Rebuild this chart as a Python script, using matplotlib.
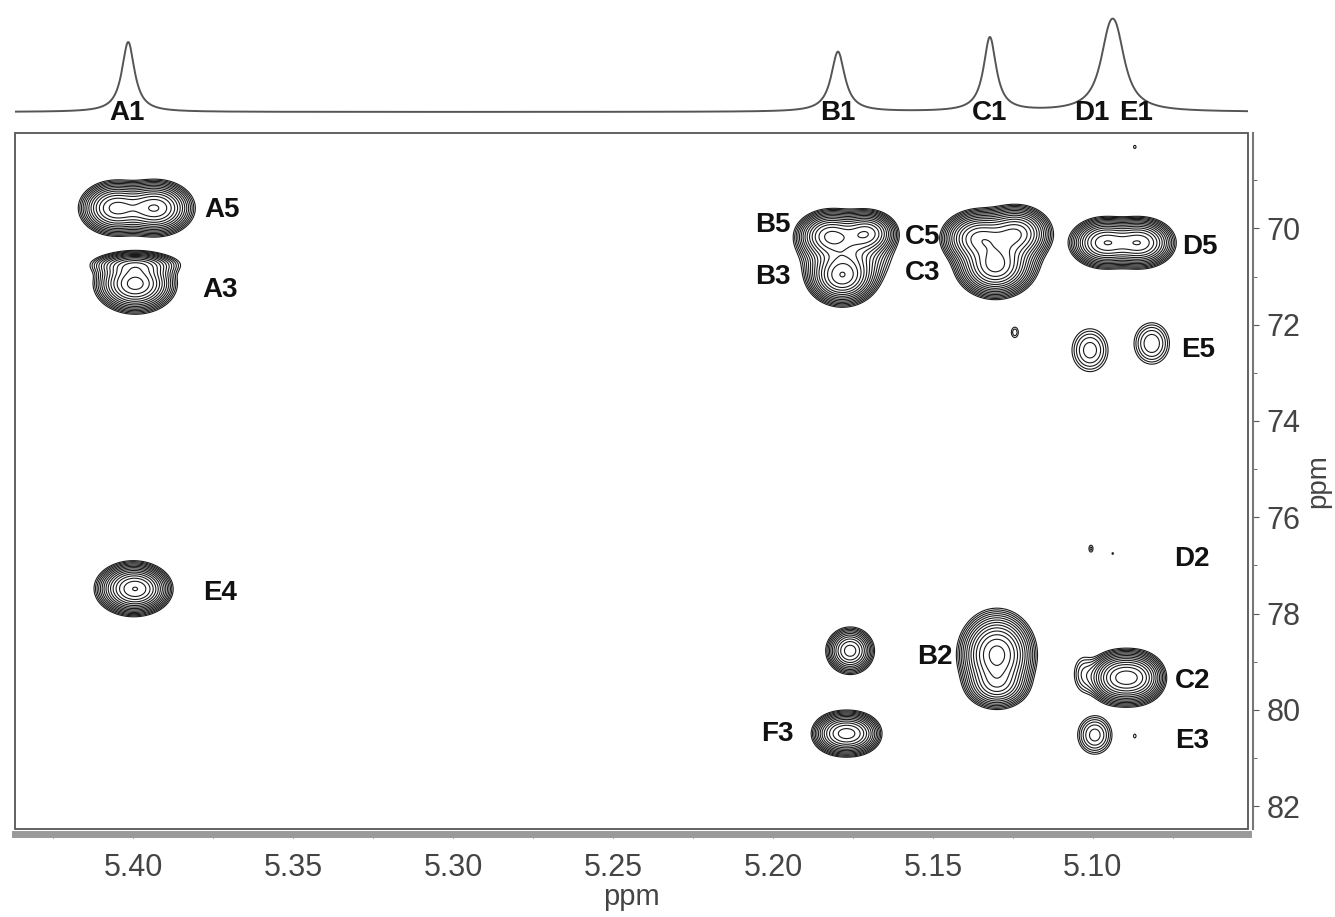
import numpy as np
import matplotlib.pyplot as plt
from matplotlib.patches import Rectangle
from matplotlib.ticker import MultipleLocator, FormatStrFormatter

plt.rcParams['font.family'] = ['Liberation Sans', 'DejaVu Sans']

# 1H trace on top (shift ppm, height, half width at half max ppm)
h1_shift = [5.4016, 5.1797, 5.1322, 5.0950, 5.0926]
h1_height = [70, 60, 74, 52, 52]
h1_hwhm = [0.0024, 0.0026, 0.0024, 0.0035, 0.0035]
h1_labels = ['A1', 'B1', 'C1', 'D1', 'E1']
h1_label_x = [5.4019, 5.1797, 5.1322, 5.1003, 5.0866]

# cross peak components: 1H shift, 13C shift, widths, amplitude
cp_h = [5.4056, 5.3931,                      # A5
        5.3994, 5.3994,                      # A3
        5.4003, 5.3975,                      # E4
        5.1822, 5.1706, 5.1784, 5.1770,      # B5 / B3
        5.1359, 5.1238, 5.1306, 5.1295,      # C5 / C3
        5.0963, 5.0853,                      # D5
        5.1244, 5.1009, 5.0816, 5.0869,      # small one, E5, dot
        5.1006, 5.0938,                      # D2
        5.1759, 5.1795, 5.1745,              # unlabelled, F3
        5.1300, 5.1300,                      # B2
        5.0925, 5.0865, 5.1031,              # C2
        5.0994, 5.0869]                      # E3
cp_c = [69.58, 69.58,
        71.15, 70.75,
        77.48, 77.50,
        70.15, 70.10, 71.00, 70.50,
        70.20, 70.10, 70.80, 70.50,
        70.30, 70.30,
        72.16, 72.53, 72.39, 68.31,
        76.65, 76.75,
        78.77, 80.49, 80.49,
        78.85, 79.50,
        79.33, 79.33, 79.25,
        80.52, 80.54]
cp_wh = [0.0048, 0.0050,
         0.0052, 0.0065,
         0.0048, 0.0040,
         0.0045, 0.0040, 0.0045, 0.0065,
         0.0048, 0.0046, 0.0048, 0.0060,
         0.0046, 0.0046,
         0.0012, 0.0038, 0.0036, 0.0006,
         0.0008, 0.0005,
         0.0034, 0.0038, 0.0038,
         0.0050, 0.0045,
         0.0040, 0.0040, 0.0024,
         0.0033, 0.0006]
cp_wc = [0.24, 0.24,
         0.25, 0.12,
         0.23, 0.20,
         0.22, 0.20, 0.25, 0.35,
         0.24, 0.24, 0.26, 0.35,
         0.22, 0.22,
         0.12, 0.30, 0.28, 0.05,
         0.09, 0.04,
         0.22, 0.20, 0.20,
         0.38, 0.22,
         0.24, 0.24, 0.29,
         0.245, 0.06]
cp_amp = [0.75, 0.90,
          1.00, 0.35,
          0.90, 0.30,
          0.80, 0.75, 1.00, 0.40,
          0.85, 0.80, 1.00, 0.40,
          0.85, 0.85,
          0.06, 0.12, 0.13, 0.05,
          0.055, 0.045,
          0.50, 0.50, 0.50,
          1.00, 0.35,
          0.70, 0.70, 0.07,
          0.15, 0.05]

lab_text = ['A5', 'A3', 'E4', 'B5', 'B3', 'C5', 'C3', 'D5', 'E5', 'D2',
            'B2', 'C2', 'F3', 'E3']
lab_h = [5.3722, 5.3728, 5.3728, 5.2000, 5.2000, 5.1531, 5.1531, 5.0666,
         5.0672, 5.0691, 5.1494, 5.0688, 5.1988, 5.0691]
lab_c = [69.62, 71.28, 77.58, 69.93, 71.01, 70.18, 70.93, 70.39,
         72.53, 76.86, 78.91, 79.39, 80.49, 80.64]

xlim = (5.437, 5.0515)
ylim = (82.47, 68.02)

# 2D map
xs = np.linspace(xlim[1], xlim[0], 1400)
ys = np.linspace(ylim[1], ylim[0], 900)
X, Y = np.meshgrid(xs, ys)
Z = np.zeros_like(X)
for h, c, wh, wc, a in zip(cp_h, cp_c, cp_wh, cp_wc, cp_amp):
    Z += a * np.exp(-0.5 * (((X - h) / wh) ** 2 + ((Y - c) / wc) ** 2))

levels = 0.04 * 1.27 ** np.arange(15)

fig = plt.figure(figsize=(13.35, 9.17), dpi=100)
ax = fig.add_axes([0.01124, 0.096, 0.9236, 0.759])
ax.contour(X, Y, Z, levels=levels, colors='#1a1a1a', linewidths=0.8)
ax.set_xlim(xlim)
ax.set_ylim(ylim)

for t, h, c in zip(lab_text, lab_h, lab_c):
    ax.text(h, c, t, fontsize=20, fontweight='bold', color='#111111',
            ha='center', va='center')

# frame + offset axis lines
ax.add_patch(Rectangle((0, 0), 1, 1, transform=ax.transAxes, fill=False,
                       lw=1.3, ec='#555555', clip_on=False, zorder=5))
for s in ['left', 'top']:
    ax.spines[s].set_visible(False)
ax.spines['bottom'].set_position(('outward', 3.5))
ax.spines['bottom'].set_linewidth(5)
ax.spines['bottom'].set_color('#9a9a9a')
ax.spines['right'].set_position(('outward', 3.5))
ax.spines['right'].set_linewidth(1.5)
ax.spines['right'].set_color('#777777')

ax.xaxis.set_major_locator(MultipleLocator(0.05))
ax.xaxis.set_minor_locator(MultipleLocator(0.025))
ax.xaxis.set_major_formatter(FormatStrFormatter('%.2f'))
ax.yaxis.set_major_locator(MultipleLocator(2))
ax.yaxis.set_minor_locator(MultipleLocator(1))
ax.yaxis.tick_right()
ax.yaxis.set_label_position('right')
ax.tick_params(which='both', colors='#555555', labelcolor='#444444')
ax.tick_params(axis='x', which='both', length=3, pad=11, labelsize=22)
ax.tick_params(axis='y', which='major', length=4, pad=6, labelsize=22)
ax.tick_params(axis='y', which='minor', length=3)
ax.set_xlabel('ppm', fontsize=21, color='#444444', labelpad=0)
ax.set_ylabel('ppm', fontsize=20, color='#444444', labelpad=3)

# 1H projection
ax_top = fig.add_axes([0.01124, 0.8637, 0.9236, 0.1363])
xx = np.linspace(xlim[1], xlim[0], 3000)
spec = np.zeros_like(xx)
for s, hgt, g in zip(h1_shift, h1_height, h1_hwhm):
    spec += hgt * g ** 2 / ((xx - s) ** 2 + g ** 2)
ax_top.plot(xx, spec, color='#555555', lw=1.4)
ax_top.set_xlim(xlim)
ax_top.set_ylim(-13, 112)
ax_top.axis('off')
for t, s in zip(h1_labels, h1_label_x):
    ax_top.text(s, -1, t, fontsize=20, fontweight='bold', color='#111111',
                ha='center', va='center', clip_on=False)

fig.savefig('out.png', dpi=100)
